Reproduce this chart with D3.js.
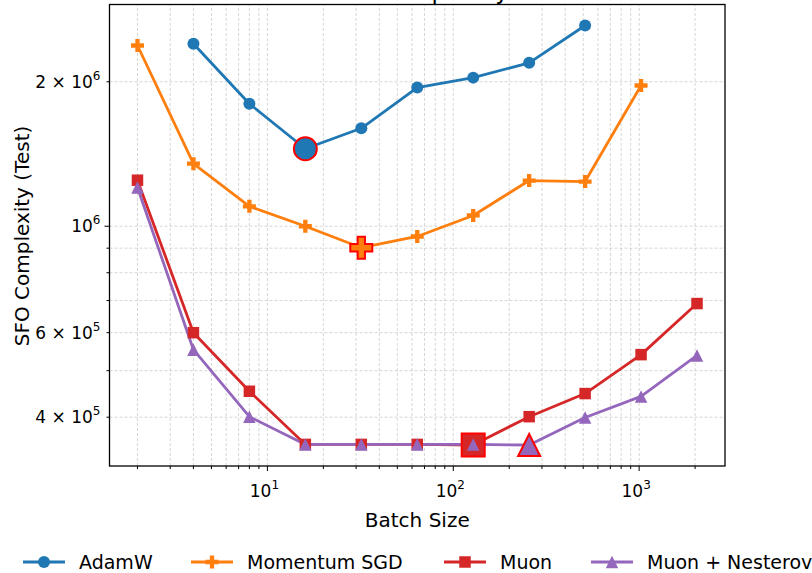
<!DOCTYPE html>
<html>
<head>
<meta charset="utf-8">
<script src="https://cdn.jsdelivr.net/npm/d3@7"></script>
<style>
  body { margin: 0; background: #fff; }
  svg { display: block; font-family: "DejaVu Sans", sans-serif; }
</style>
</head>
<body>
<svg id="chart"></svg>
<script>
const width = 812;
const height = 573;
const margin = {left: 109.5, right: 87, top: 4.5, bottom: 107};

// DATA
const batchSizes = [2, 4, 8, 16, 32, 64, 128, 256, 512, 1024, 2048];
const adamw    = [null, 2.40e6, 1.80e6, 1.45e6, 1.60e6, 1.945e6, 2.04e6, 2.19e6, 2.62e6, null, null];
const sgd      = [2.38e6, 1.35e6, 1.10e6, 1.0e6, 0.902e6, 0.952e6, 1.053e6, 1.245e6, 1.239e6, 1.964e6, null];
const muon     = [1.247e6, 0.600e6, 0.453e6, 0.351e6, 0.351e6, 0.351e6, 0.350e6, 0.401e6, 0.448e6, 0.540e6, 0.690e6];
const nesterov = [1.204e6, 0.553e6, 0.401e6, 0.351e6, 0.351e6, 0.351e6, 0.351e6, 0.350e6, 0.3995e6, 0.442e6, 0.538e6];
const seriesNames = ["AdamW", "Momentum SGD", "Muon", "Muon + Nesterov"];
const seriesValues = [adamw, sgd, muon, nesterov];
const bestIndex = [3, 4, 6, 7];
const colors = ["#1f77b4", "#ff7f0e", "#d62728", "#9467bd"];
const markers = ["circle", "plus", "square", "triangle"];

const xTickValues = [10, 100, 1000];
const xTickExp = ["1", "2", "3"];
const yTickValues = [4e5, 6e5, 1e6, 2e6];
const yTickLabels = [["4 \u00d7 10", "5"], ["6 \u00d7 10", "5"], ["10", "6"], ["2 \u00d7 10", "6"]];

const svg = d3.select("#chart").attr("width", width).attr("height", height);

// SCALES (log, with matplotlib-style 5% margins in log space)
const padLog = (lo, hi) => {
  const a = Math.log10(lo), b = Math.log10(hi), m = (b - a) * 0.05;
  return [Math.pow(10, a - m), Math.pow(10, b + m)];
};
const allY = seriesValues.flat().filter(v => v != null);
const xScale = d3.scaleLog()
  .domain(padLog(d3.min(batchSizes), d3.max(batchSizes)))
  .range([margin.left, width - margin.right]);
const yScale = d3.scaleLog()
  .domain(padLog(d3.min(allY), d3.max(allY)))
  .range([height - margin.bottom, margin.top]);

const x0 = margin.left, x1 = width - margin.right;
const y0 = height - margin.bottom, y1 = margin.top;

// GRID (major + minor)
const xGrid = [];
for (let e = 0; e <= 3; e++) for (let k = 1; k <= 9; k++) {
  const v = k * Math.pow(10, e);
  if (v > xScale.domain()[0] && v < xScale.domain()[1]) xGrid.push(v);
}
const yGrid = [];
for (let e = 5; e <= 6; e++) for (let k = 1; k <= 9; k++) {
  const v = k * Math.pow(10, e);
  if (v > yScale.domain()[0] && v < yScale.domain()[1]) yGrid.push(v);
}
const grid = svg.append("g")
  .attr("stroke", "#b0b0b0")
  .attr("stroke-opacity", 0.65)
  .attr("stroke-width", 0.8)
  .attr("stroke-dasharray", "3,2");
grid.selectAll(".gx").data(xGrid).join("line")
  .attr("x1", d => xScale(d)).attr("x2", d => xScale(d))
  .attr("y1", y0).attr("y2", y1);
grid.selectAll(".gy").data(yGrid).join("line")
  .attr("x1", x0).attr("x2", x1)
  .attr("y1", d => yScale(d)).attr("y2", d => yScale(d));

// TICK MARKS
const ticks = svg.append("g").attr("stroke", "#000").attr("stroke-width", 1);
ticks.selectAll(".tx").data(xGrid).join("line")
  .attr("x1", d => xScale(d)).attr("x2", d => xScale(d))
  .attr("y1", y0).attr("y2", d => y0 + (xTickValues.includes(d) ? 5 : 3));
ticks.selectAll(".ty").data(yGrid).join("line")
  .attr("y1", d => yScale(d)).attr("y2", d => yScale(d))
  .attr("x1", x0).attr("x2", d => x0 - (d === 1e6 ? 5 : 3));

// TICK LABELS
const xl = svg.append("g").attr("font-size", 17).attr("fill", "#000");
xTickValues.forEach((v, i) => {
  const t = xl.append("text")
    .attr("x", xScale(v) - 3)
    .attr("y", y0 + 31)
    .attr("text-anchor", "middle");
  t.append("tspan").text("10");
  t.append("tspan").attr("dy", -8).attr("font-size", 12).text(xTickExp[i]);
});
const yl = svg.append("g").attr("font-size", 17).attr("fill", "#000");
yTickValues.forEach((v, i) => {
  const t = yl.append("text")
    .attr("x", x0 - 9)
    .attr("y", yScale(v) + 6)
    .attr("text-anchor", "end");
  t.append("tspan").text(yTickLabels[i][0]);
  t.append("tspan").attr("dy", -8).attr("font-size", 12).text(yTickLabels[i][1]);
});

// MARKER SHAPES
function markerPath(kind, s) {
  const h = s / 2;
  if (kind === "circle") return d3.symbol(d3.symbolCircle, Math.PI * h * h)();
  if (kind === "square") return `M${-h},${-h}H${h}V${h}H${-h}Z`;
  if (kind === "triangle") return `M0,${-h}L${h},${h}L${-h},${h}Z`;
  const a = s / 6;
  return `M${-a},${-h}H${a}V${-a}H${h}V${a}H${a}V${h}H${-a}V${a}H${-h}V${-a}H${-a}Z`;
}
const normalSize = [12, 13, 11.5, 12.5];
const bigSize = [23, 22, 23, 22];

// LINES
const line = d3.line()
  .defined(d => d.v != null)
  .x(d => xScale(d.x))
  .y(d => yScale(d.v));
seriesValues.forEach((vals, s) => {
  const pts = batchSizes.map((x, i) => ({x, v: vals[i]}));
  svg.append("path")
    .datum(pts)
    .attr("d", line)
    .attr("fill", "none")
    .attr("stroke", colors[s])
    .attr("stroke-width", 2.8)
    .attr("stroke-linejoin", "round");
});

// MARKERS + HIGHLIGHTED BEST POINT
seriesValues.forEach((vals, s) => {
  const pts = batchSizes.map((x, i) => ({x, v: vals[i]})).filter(d => d.v != null);
  svg.append("g").selectAll("path").data(pts).join("path")
    .attr("transform", d => `translate(${xScale(d.x)},${yScale(d.v)})`)
    .attr("d", markerPath(markers[s], normalSize[s]))
    .attr("fill", colors[s]);
  const b = bestIndex[s];
  svg.append("path")
    .attr("transform", `translate(${xScale(batchSizes[b])},${yScale(vals[b])})`)
    .attr("d", markerPath(markers[s], bigSize[s]))
    .attr("fill", colors[s])
    .attr("stroke", "red")
    .attr("stroke-width", 2);
});

// FRAME
svg.append("rect")
  .attr("x", x0).attr("y", y1)
  .attr("width", x1 - x0).attr("height", y0 - y1)
  .attr("fill", "none").attr("stroke", "#000").attr("stroke-width", 1.3);

// AXIS LABELS + TITLE (title is clipped by the top edge, as in the source)
svg.append("text")
  .attr("x", (x0 + x1) / 2)
  .attr("y", y0 + 61)
  .attr("text-anchor", "middle")
  .attr("font-size", 20)
  .text("Batch Size");
svg.append("text")
  .attr("transform", "rotate(-90)")
  .attr("x", -236)
  .attr("y", 29)
  .attr("text-anchor", "middle")
  .attr("font-size", 20)
  .text("SFO Complexity (Test)");
svg.append("text")
  .attr("x", (x0 + x1) / 2)
  .attr("y", -1)
  .attr("text-anchor", "middle")
  .attr("font-size", 23)
  .text("SFO Complexity");

// LEGEND
const legendX = [23, 191, 444, 591];
const legend = svg.append("g").attr("transform", "translate(0,562)");
seriesNames.forEach((name, s) => {
  const g = legend.append("g").attr("transform", `translate(${legendX[s]},0)`);
  g.append("line")
    .attr("x1", 0).attr("x2", 42)
    .attr("stroke", colors[s]).attr("stroke-width", 2.8);
  g.append("path")
    .attr("transform", "translate(21,0)")
    .attr("d", markerPath(markers[s], normalSize[s]))
    .attr("fill", colors[s]);
  g.append("text")
    .attr("x", 56)
    .attr("y", 7)
    .attr("font-size", 19)
    .text(name);
});
</script>
</body>
</html>
